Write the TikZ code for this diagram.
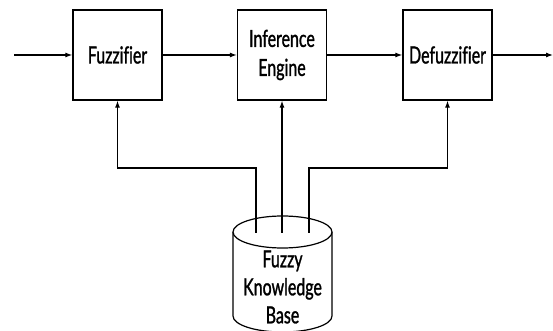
\documentclass[tikz,border=0pt]{standalone}
\usepackage{fontspec}
\setmainfont{Lato}[FakeStretch=0.68,FakeBold=1.2,Ligatures=CommonOff]
\usetikzlibrary{arrows.meta}
\begin{document}
\begin{tikzpicture}[x=1pt,y=1pt,
  lbl/.style={font=\fontsize{23.5}{29}\selectfont},
  blk/.style={draw, lbl, line width=1.3pt, minimum width=89pt, minimum height=90pt, inner sep=0pt, align=center},
  arr/.style={line width=1.1pt, -{Latex[length=7pt,width=5pt]}},
  cyl/.style={draw, line width=1.2pt, fill=white}]
\useasboundingbox (0,0) rectangle (553,331);
\node[blk] (fz) at (117.5,276) {Fuzzifier};
\node[blk] (ie) at (282,276) {Inference\\Engine};
\node[blk] (dz) at (447.5,276) {Defuzzifier};
\coordinate (in) at (14,276);
\coordinate (out) at (553,276);
\draw[arr] (in) -- (fz);
\draw[arr] (fz) -- (ie);
\draw[arr] (ie) -- (dz);
\draw[arr] (dz) -- (out);
% cylinder
\draw[cyl] (233,99) -- (233,15) arc[start angle=180,end angle=360,x radius=49.5,y radius=16] -- (332,99);
\draw[cyl] (282.5,99) ellipse [x radius=49.5,y radius=16];
\node[font=\fontsize{23.5}{28}\selectfont, align=center, inner sep=0pt] (kb) at (282.5,44) {Fuzzy\\Knowledge\\Base};
\coordinate (k1) at (256,98);
\coordinate (k2) at (282,98);
\coordinate (k3) at (309,98);
\draw[arr] (k1) -- ++(0,65) -| (fz.south);
\draw[arr] (k2) -- (ie.south);
\draw[arr] (k3) -- ++(0,65) -| (dz.south);
\end{tikzpicture}
\end{document}
